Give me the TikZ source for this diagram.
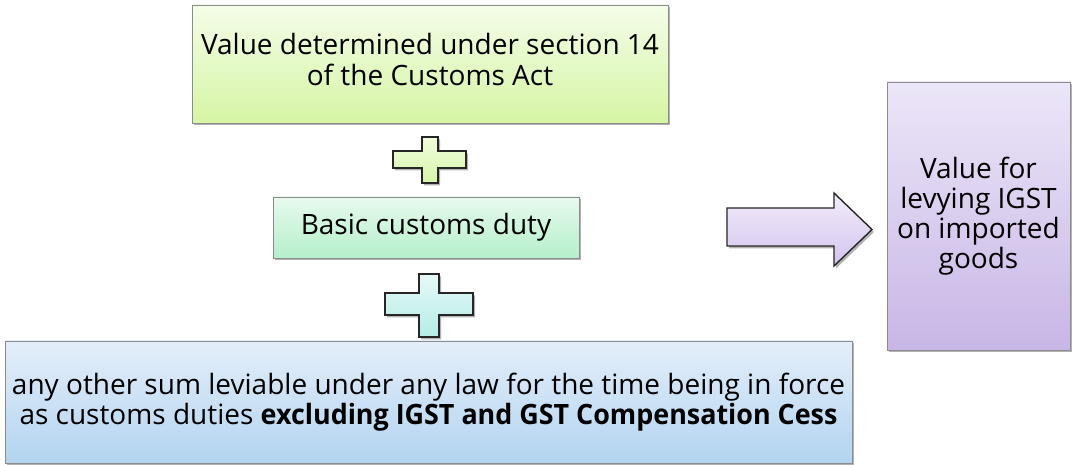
\documentclass[tikz,border=0pt]{standalone}
\usepackage{fontspec}
\setmainfont{Open Sans}
\usetikzlibrary{shadows}
\definecolor{boxgray}{HTML}{8C8C8C}
\begin{document}
\begin{tikzpicture}[x=1pt,y=-1pt,
  shad/.style={drop shadow={shadow xshift=2pt,shadow yshift=-2.5pt,opacity=0.3,fill=black}},
  box/.style={shad, draw=boxgray, line width=0.9pt, inner sep=0pt, align=center,
    font=\fontsize{28}{30}\selectfont, text=black},
  blockshape/.style={shad, draw=black!85, line width=1.4pt}]
\useasboundingbox (0,0) rectangle (1072,465);

\node[box, top color={rgb,255:red,244;green,253;blue,232}, bottom color={rgb,255:red,214;green,245;blue,164},
  minimum width=476pt, minimum height=118pt] (val) at (430,64)
  {\raisebox{-5pt}{\begin{tabular}{@{}c@{}}Value determined under section 14\\of the Customs Act\end{tabular}}};

\node[box, top color={rgb,255:red,232;green,250;blue,238}, bottom color={rgb,255:red,180;green,239;blue,202},
  minimum width=306pt, minimum height=61pt] (bcd) at (426,227.5)
  {Basic customs duty};

\node[box, top color={rgb,255:red,228;green,238;blue,250}, bottom color={rgb,255:red,178;green,212;blue,240},
  minimum width=847pt, minimum height=122pt] (oth) at (428.5,402)
  {any other sum leviable under any law for the time being in force\\as customs duties \scalebox{0.96}[1]{\textbf{excluding IGST and GST Compensation Cess}}};

\node[box, top color={rgb,255:red,236;green,230;blue,248}, bottom color={rgb,255:red,200;green,182;blue,230},
  minimum width=183pt, minimum height=268pt] (res) at (978.5,216)
  {Value for\\levying IGST\\on imported\\goods};

\path[blockshape, top color={rgb,255:red,242;green,252;blue,220}, bottom color={rgb,255:red,214;green,245;blue,170}]
  (422,137) -- (438,137) -- (438,151) -- (466,151) -- (466,168) -- (438,168) -- (438,183)
  -- (422,183) -- (422,168) -- (393,168) -- (393,151) -- (422,151) -- cycle;

\path[blockshape, top color={rgb,255:red,230;green,249;blue,249}, bottom color={rgb,255:red,180;green,236;blue,228}]
  (419,274) -- (439,274) -- (439,293) -- (473,293) -- (473,315) -- (439,315) -- (439,337)
  -- (419,337) -- (419,315) -- (385,315) -- (385,293) -- (419,293) -- cycle;

\path[blockshape, top color={rgb,255:red,242;green,236;blue,250}, bottom color={rgb,255:red,212;green,196;blue,238}]
  (727,208) -- (834,208) -- (834,193) -- (872,229.5) -- (834,266) -- (834,246) -- (727,246) -- cycle;
\end{tikzpicture}
\end{document}
